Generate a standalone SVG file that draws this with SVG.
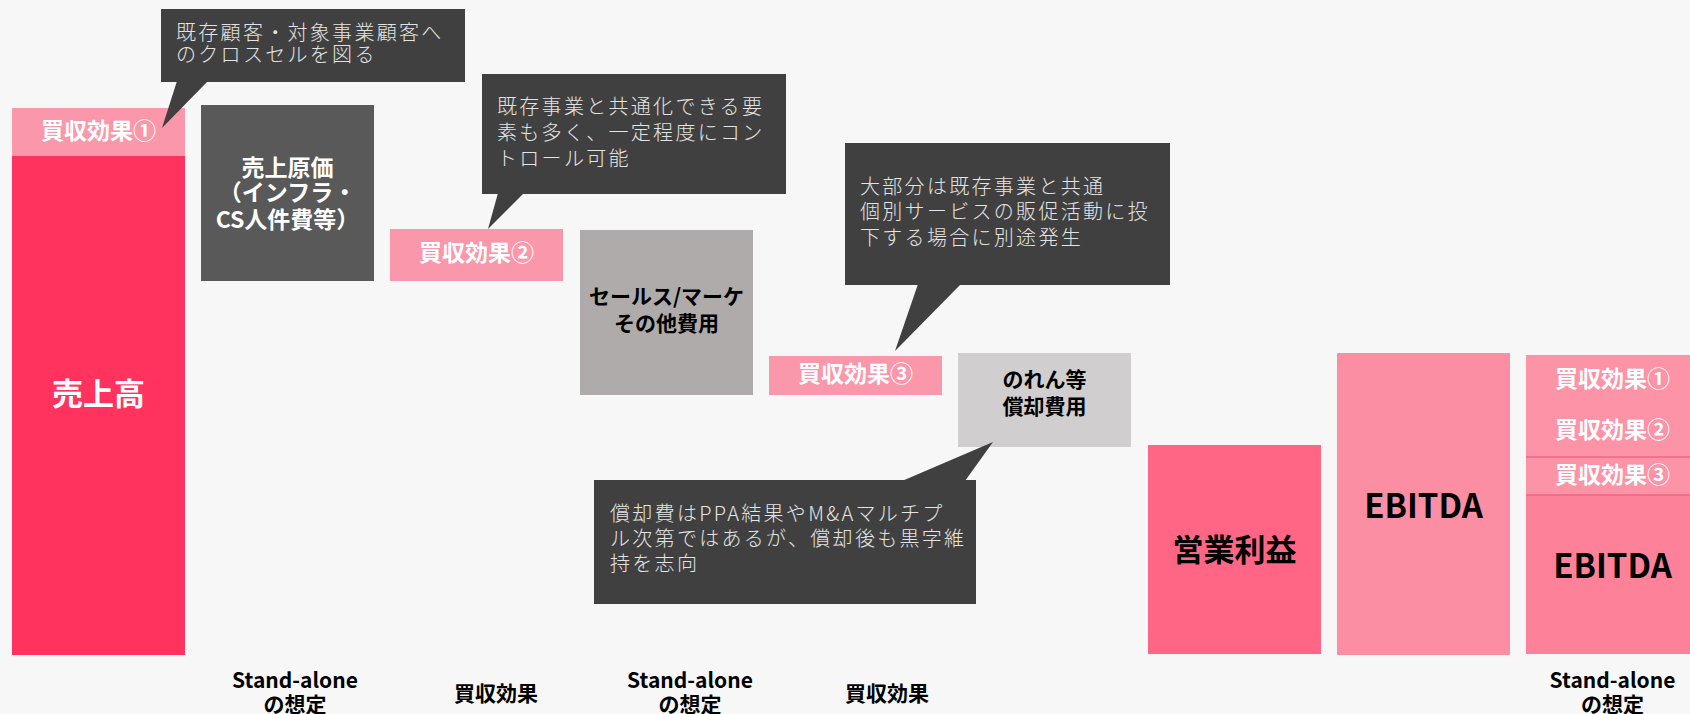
<svg xmlns="http://www.w3.org/2000/svg" width="1690" height="714" viewBox="0 0 1690 714">
<style>
text{font-family:"Noto Sans CJK JP","Noto Sans",sans-serif}
.lb{font-weight:700;text-anchor:middle}
.w{fill:#ffffff}
.k{fill:#000000}
.l23{font-size:23px}
.l21{font-size:21px}
.big{font-size:31px}
.co{fill:#404040}
.ct{fill:#e4e4e4;font-size:20px;font-weight:300;letter-spacing:2.3px}
.ax{font-size:21px;font-weight:700;text-anchor:middle;fill:#000}
</style>
<rect x="0" y="0" width="1690" height="714" fill="#F7F7F7"/>

<g id="uriage">
<rect x="12" y="156" width="173" height="499" fill="#FF335E"/>
<text class="lb w big" x="98.5" y="405">売上高</text>
</g>
<g id="effect1">
<rect x="12" y="108" width="173" height="48" fill="#FA97AA"/>
<text class="lb w l23" x="98.5" y="139">買収効果①</text>
</g>
<g id="genka">
<rect x="201" y="105" width="173" height="176" fill="#595959"/>
<text class="lb w l23" x="287.5" y="176">売上原価</text>
<text class="lb w l23" x="287.5" y="201">（インフラ・</text>
<text class="lb w l23" x="287.5" y="228">CS人件費等）</text>
</g>
<g id="effect2">
<rect x="390" y="229" width="173" height="52" fill="#FA97AA"/>
<text class="lb w l23" x="476.5" y="261">買収効果②</text>
</g>
<g id="sales">
<rect x="580" y="230" width="173" height="165" fill="#AFABAB"/>
<text class="lb k l21" x="666.5" y="304">セールス/マーケ</text>
<text class="lb k l21" x="666.5" y="331">その他費用</text>
</g>
<g id="effect3">
<rect x="769" y="356" width="173" height="39" fill="#FA97AA"/>
<text class="lb w l23" x="855.5" y="382">買収効果③</text>
</g>
<g id="noren">
<rect x="958" y="353" width="173" height="94" fill="#D0CECE"/>
<text class="lb k l21" x="1044.5" y="387">のれん等</text>
<text class="lb k l21" x="1044.5" y="414">償却費用</text>
</g>
<g id="eigyo">
<rect x="1148" y="445" width="173" height="209" fill="#FF6685"/>
<text class="lb k big" x="1234.5" y="561">営業利益</text>
</g>
<g id="ebitda">
<rect x="1337" y="353" width="173" height="302" fill="#FC8EA4"/>
<text class="lb k" style="font-size:33px" x="1423.5" y="518">EBITDA</text>
</g>
<g id="standalone-ebitda">
<rect x="1526" y="355" width="173" height="102" fill="#FC93A7"/>
<rect x="1526" y="457" width="173" height="38" fill="#FC93A7"/>
<rect x="1526" y="495" width="173" height="159" fill="#FD8299"/>
<line x1="1526" y1="457" x2="1699" y2="457" stroke="#F46685" stroke-width="1.5"/>
<line x1="1526" y1="495" x2="1699" y2="495" stroke="#F46685" stroke-width="1.5"/>
<text class="lb w l23" x="1612.5" y="387">買収効果①</text>
<text class="lb w l23" x="1612.5" y="438">買収効果②</text>
<text class="lb w l23" x="1612.5" y="483">買収効果③</text>
<text class="lb k" style="font-size:33px" x="1612.5" y="578">EBITDA</text>
</g>

<g id="connectors">
<polygon class="co" points="177,81 208,81 162,128"/>
<polygon class="co" points="498,193 524,193 488,229"/>
<polygon class="co" points="918,284 961,284 895,351"/>
<polygon class="co" points="902,481 965,481 993,442"/>
</g>

<g id="callout1">
<rect class="co" x="161" y="9" width="304" height="73"/>
<text class="ct" x="176" y="40">既存顧客・対象事業顧客へ</text>
<text class="ct" x="176" y="62">のクロスセルを図る</text>
</g>
<g id="callout2">
<rect class="co" x="482" y="74" width="304" height="120"/>
<text class="ct" x="497" y="114">既存事業と共通化できる要</text>
<text class="ct" x="497" y="140">素も多く、一定程度にコン</text>
<text class="ct" x="497" y="166">トロール可能</text>
</g>
<g id="callout3">
<rect class="co" x="845" y="143" width="325" height="142"/>
<text class="ct" x="860" y="194">大部分は既存事業と共通</text>
<text class="ct" x="860" y="219">個別サービスの販促活動に投</text>
<text class="ct" x="860" y="245">下する場合に別途発生</text>
</g>
<g id="callout4">
<rect class="co" x="594" y="480" width="382" height="124"/>
<text class="ct" x="610" y="521">償却費はPPA結果やM&amp;Aマルチプ</text>
<text class="ct" x="610" y="546">ル次第ではあるが、償却後も黒字維</text>
<text class="ct" x="610" y="571">持を志向</text>
</g>

<g id="axis-labels">
<text class="ax" x="295" y="688">Stand-alone</text>
<text class="ax" x="295" y="712">の想定</text>
<text class="ax" x="496" y="701">買収効果</text>
<text class="ax" x="690" y="688">Stand-alone</text>
<text class="ax" x="690" y="712">の想定</text>
<text class="ax" x="887" y="701">買収効果</text>
<text class="ax" x="1612.5" y="688">Stand-alone</text>
<text class="ax" x="1612.5" y="712">の想定</text>
</g>
</svg>
